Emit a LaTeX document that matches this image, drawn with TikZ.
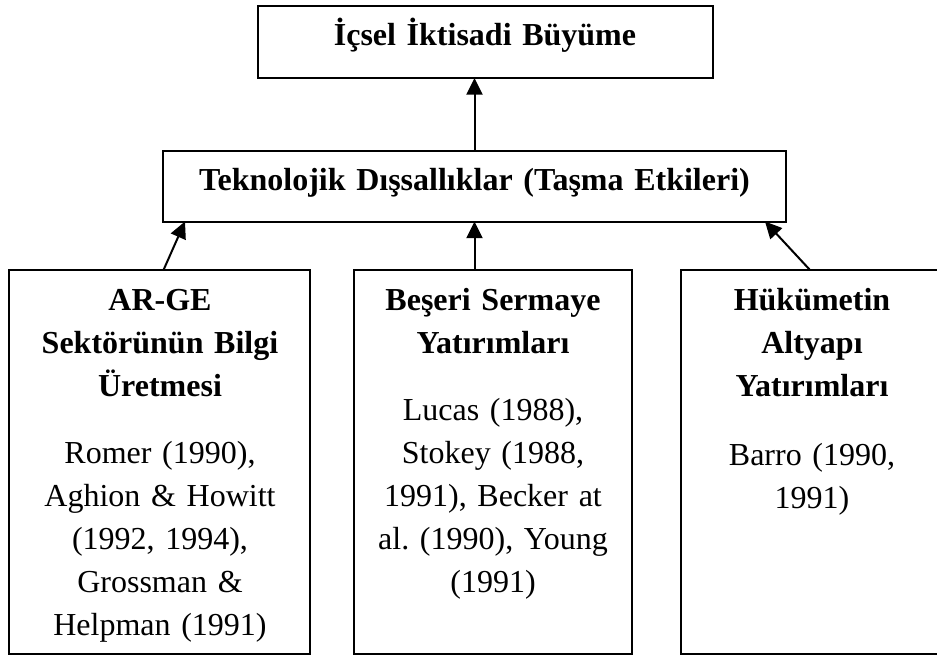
\documentclass[tikz,border=0pt]{standalone}
\usepackage{fontspec}
\setmainfont{Liberation Serif}
\usetikzlibrary{arrows.meta,calc}
\frenchspacing
\begin{document}
\begin{tikzpicture}[x=0.75pt,y=-0.75pt,
  box/.style={draw=black,line width=1.5pt,fill=white,inner sep=0pt,outer sep=0pt},
  txt/.style={anchor=base,align=center,inner sep=0pt,text width=250pt,font=\fontsize{24}{32.4}\selectfont},
  btxt/.style={txt,font=\fontsize{24}{32.4}\selectfont\bfseries},
  arr/.style={line width=1.5pt,-{Triangle[length=12.5pt,width=12pt]}}]
\useasboundingbox (0,0) rectangle (937,657);
% boxes
\node[box,minimum width=455*0.75pt,minimum height=72*0.75pt] (top) at (485.5,42) {};
\node[box,minimum width=623*0.75pt,minimum height=71*0.75pt] (mid) at (474.5,186) {};
\node[box,minimum width=301*0.75pt,minimum height=384*0.75pt] (b1) at (159.5,462) {};
\node[box,minimum width=278*0.75pt,minimum height=384*0.75pt] (b2) at (493,462) {};
\node[box,minimum width=262*0.75pt,minimum height=384*0.75pt] (b3) at (812,462) {};
% texts
\node[btxt,text width=440pt] (toptxt) at (485,45) {İçsel İktisadi Büyüme};
\node[btxt,text width=440pt] (midtxt) at (474.5,190) {Teknolojik Dışsallıklar (Taşma Etkileri)};
\node[btxt] (b1h) at (160,310) {AR-GE\\Sektörünün Bilgi\\Üretmesi};
\node[txt] (b1r) at (160,463) {Romer (1990),\\Aghion \& Howitt\\(1992, 1994),\\Grossman \&\\Helpman (1991)};
\node[btxt] (b2h) at (493,310) {Beşeri Sermaye\\Yatırımları};
\node[txt] (b2r) at (493,420) {Lucas (1988),\\Stokey (1988,\\1991), Becker at\\al. (1990), Young\\(1991)};
\node[btxt] (b3h) at (812,310) {Hükümetin\\Altyapı\\Yatırımları};
\node[txt] (b3r) at (812,465) {Barro (1990,\\1991)};
% arrows
\draw[arr] (mid.north) -- (top.south -| mid.north);
\draw[arr] (b2.north -| mid.south) -- (mid.south);
\draw[arr] ([xshift=3pt]b1.north) -- ([xshift=16.5pt]mid.south west);
\draw[arr] ([xshift=96.75pt]b3.north west) -- ([xshift=-15.75pt]mid.south east);
\end{tikzpicture}
\end{document}
